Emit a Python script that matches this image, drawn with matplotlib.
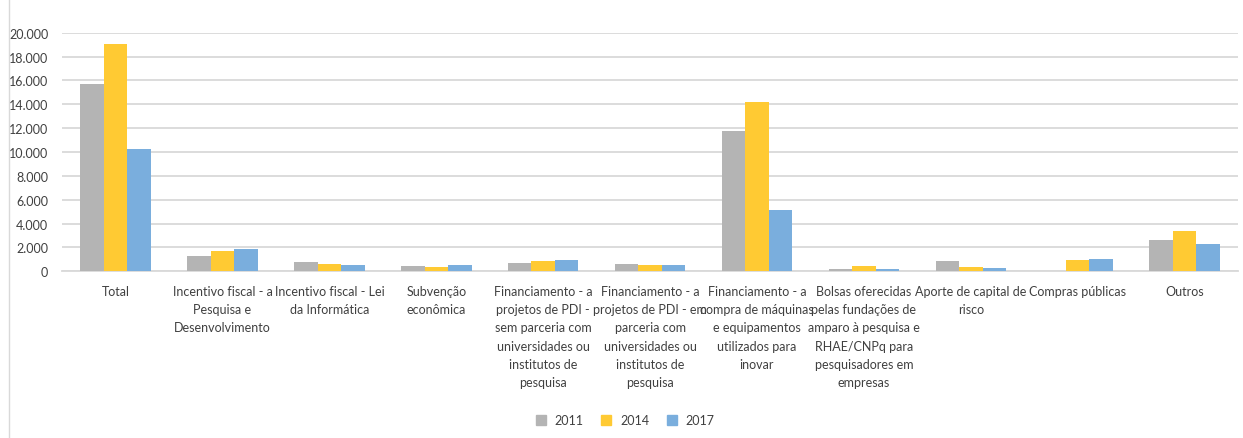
import numpy as np
import matplotlib
matplotlib.use("Agg")
import matplotlib.pyplot as plt
from matplotlib.ticker import FuncFormatter
from matplotlib.lines import Line2D

plt.rcParams['font.family'] = ['Lato', 'DejaVu Sans']

categorias = [
    "Total",
    "Incentivo fiscal - a\nPesquisa e\nDesenvolvimento",
    "Incentivo fiscal - Lei\nda Informática",
    "Subvenção\neconômica",
    "Financiamento - a\nprojetos de PDI -\nsem parceria com\nuniversidades ou\ninstitutos de\npesquisa",
    "Financiamento - a\nprojetos de PDI - em\nparceria com\nuniversidades ou\ninstitutos de\npesquisa",
    "Financiamento - a\ncompra de máquinas\ne equipamentos\nutilizados para\ninovar",
    "Bolsas oferecidas\npelas fundações de\namparo à pesquisa e\nRHAE/CNPq para\npesquisadores em\nempresas",
    "Aporte de capital de\nrisco",
    "Compras públicas",
    "Outros",
]
anos = ["2011", "2014", "2017"]
v2011 = [15700, 1260, 760, 420, 720, 600, 11750, 200, 850, 0, 2600]
v2014 = [19050, 1680, 600, 340, 820, 520, 14200, 420, 330, 950, 3350]
v2017 = [10250, 1850, 500, 500, 970, 500, 5100, 220, 280, 1020, 2300]
cores = ["#B4B4B4", "#FFCA33", "#7AAEDD"]

fig = plt.figure(figsize=(12.43, 4.39), dpi=100)
ax = fig.add_axes([0.050, 0.380, 0.946, 0.543])

x = np.arange(len(categorias))
w = 0.22
for i, (vals, cor, ano) in enumerate(zip([v2011, v2014, v2017], cores, anos)):
    ax.bar(x + (i - 1) * w, vals, width=w, color=cor, label=ano, zorder=3)

ax.set_xlim(-0.5, len(categorias) - 0.5)
ax.set_ylim(0, 20000)
ax.set_yticks(np.arange(0, 20001, 2000))
ax.yaxis.set_major_formatter(FuncFormatter(lambda v, p: f"{int(v):,}".replace(",", ".")))
ax.grid(axis='y', color='#D9D9D9', linewidth=1.3, zorder=0)
for s in ['top', 'right', 'left']:
    ax.spines[s].set_visible(False)
ax.spines['bottom'].set_color('#D9D9D9')
ax.spines['bottom'].set_linewidth(1.3)
ax.tick_params(axis='y', length=0, labelsize=9, colors='#404040', pad=10)
ax.tick_params(axis='x', length=0, pad=10)
ax.set_xticks(x)
ax.set_xticklabels(categorias, fontsize=9, color='#404040', linespacing=1.62)

handles = [Line2D([0], [0], marker='s', linestyle='none', markersize=7,
                  markerfacecolor=c, markeredgecolor=c) for c in cores]
fig.legend(handles, anos, loc='center', bbox_to_anchor=(0.5, 0.04), ncol=3,
           frameon=False, fontsize=9, handletextpad=0.1, columnspacing=0.8,
           labelcolor='#404040')

fig.add_artist(Line2D([0.007, 0.007], [0, 1], transform=fig.transFigure,
                      color='#D9D9D9', linewidth=1))

fig.savefig("out.png", dpi=100)
